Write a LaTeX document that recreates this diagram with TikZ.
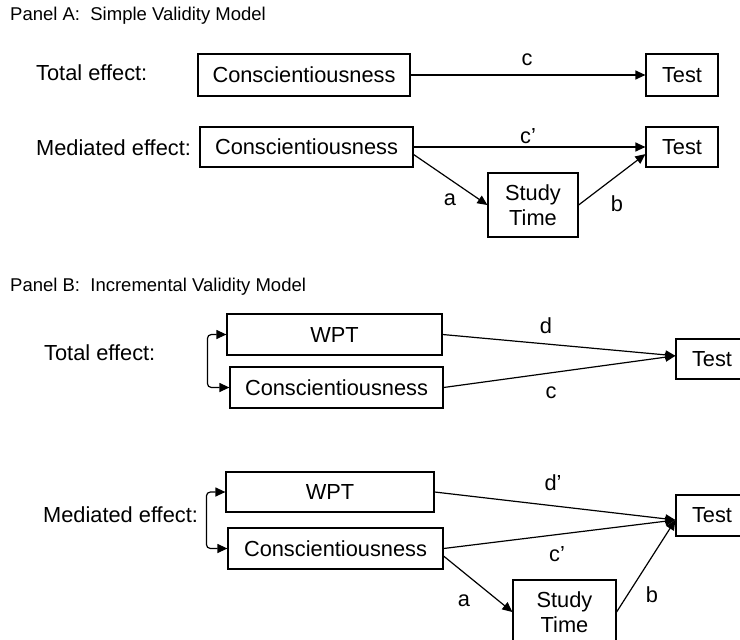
\documentclass[tikz,border=0pt]{standalone}
\usepackage{fontspec}
\setmainfont{Liberation Sans}
\usetikzlibrary{arrows.meta}

\begin{document}
\begin{tikzpicture}[x=1pt, y=-1pt,
    box/.style={draw, line width=1.2pt, inner sep=0pt, align=center, font=\fontsize{21.8}{25}\selectfont},
    lbl/.style={inner sep=0pt, font=\fontsize{21.8}{25}\selectfont},
    paneltitle/.style={inner sep=0pt, anchor=west, font=\fontsize{18.5}{21}\selectfont},
    arr/.style={line width=1.2pt, -{Triangle[length=10pt, width=9pt]}},
    dbl/.style={line width=1.2pt, {Triangle[length=10pt, width=9pt]}-{Triangle[length=10pt, width=9pt]}, rounded corners=4pt}]

    \useasboundingbox (0,0) rectangle (740,640);

    % Panel A
    \node[paneltitle] (titleA) at (10,16) {Panel A:\ \ Simple Validity Model};

    \node[lbl, anchor=west] (totA) at (36,73) {Total effect:};
    \node[box, minimum width=212pt, minimum height=42pt] (consA) at (304,75) {Conscientiousness};
    \node[box, minimum width=72pt, minimum height=42pt] (testA) at (682,75) {Test};

    \node[lbl, anchor=west] (medA) at (36,148) {Mediated effect:};
    \node[box, minimum width=213pt, minimum height=40pt] (consAm) at (306.5,147) {Conscientiousness};
    \node[box, minimum width=72pt, minimum height=40pt] (testAm) at (682,147) {Test};
    \node[box, minimum width=90pt, minimum height=64pt] (studyA) at (533,205) {Study\\Time};

    \node[lbl] (lcA) at (527,60) {c};
    \node[lbl] (lcpA) at (528,136) {c’};
    \node[lbl] (laA) at (450,200) {a};
    \node[lbl] (lbA) at (617,204) {b};

    \draw[arr] (consA.east) -- (testA.west);
    \draw[arr] (consAm.east) -- (testAm.west);
    \draw[arr] (consAm.-4) -- (studyA.west);
    \draw[arr] (studyA.east) -- (testAm.191);

    % Panel B
    \node[paneltitle] (titleB) at (10,287) {Panel B:\ \ Incremental Validity Model};

    \node[lbl, anchor=west] (totB) at (44,353) {Total effect:};
    \node[box, minimum width=215pt, minimum height=41pt] (wptB) at (334.5,334.5) {WPT};
    \node[box, minimum width=213pt, minimum height=41pt] (consB) at (336.5,387.5) {Conscientiousness};
    \node[box, minimum width=72pt, minimum height=40pt] (testB) at (712,359) {Test};

    \node[lbl] (ldB) at (546,326) {d};
    \node[lbl] (lcB) at (551,393) {c};

    \draw[arr] (wptB.east) -- (testB.175);
    \draw[arr] (consB.east) -- (testB.175);
    \draw[dbl] (wptB.west) -- ++(-19,0) |- (consB.west);

    \node[lbl, anchor=west] (medB) at (43,515) {Mediated effect:};
    \node[box, minimum width=208pt, minimum height=40pt] (wptBm) at (330,492) {WPT};
    \node[box, minimum width=215pt, minimum height=41pt] (consBm) at (335.5,548.5) {Conscientiousness};
    \node[box, minimum width=72pt, minimum height=41pt] (testBm) at (712,515.5) {Test};
    \node[box, minimum width=103pt, minimum height=64pt] (studyB) at (564.5,612) {Study\\Time};

    \node[lbl] (ldpB) at (553,483) {d’};
    \node[lbl] (lcpB) at (557,554) {c’};
    \node[lbl] (laB) at (464,601) {a};
    \node[lbl] (lbB) at (652,595) {b};

    \draw[arr] (wptBm.east) -- (testBm.187);
    \draw[arr] (consBm.east) -- (testBm.187);
    \draw[arr] (consBm.-4) -- (studyB.west);
    \draw[arr] (studyB.east) -- (testBm.187);
    \draw[dbl] (wptBm.west) -- ++(-19,0) |- (consBm.west);

\end{tikzpicture}
\end{document}
